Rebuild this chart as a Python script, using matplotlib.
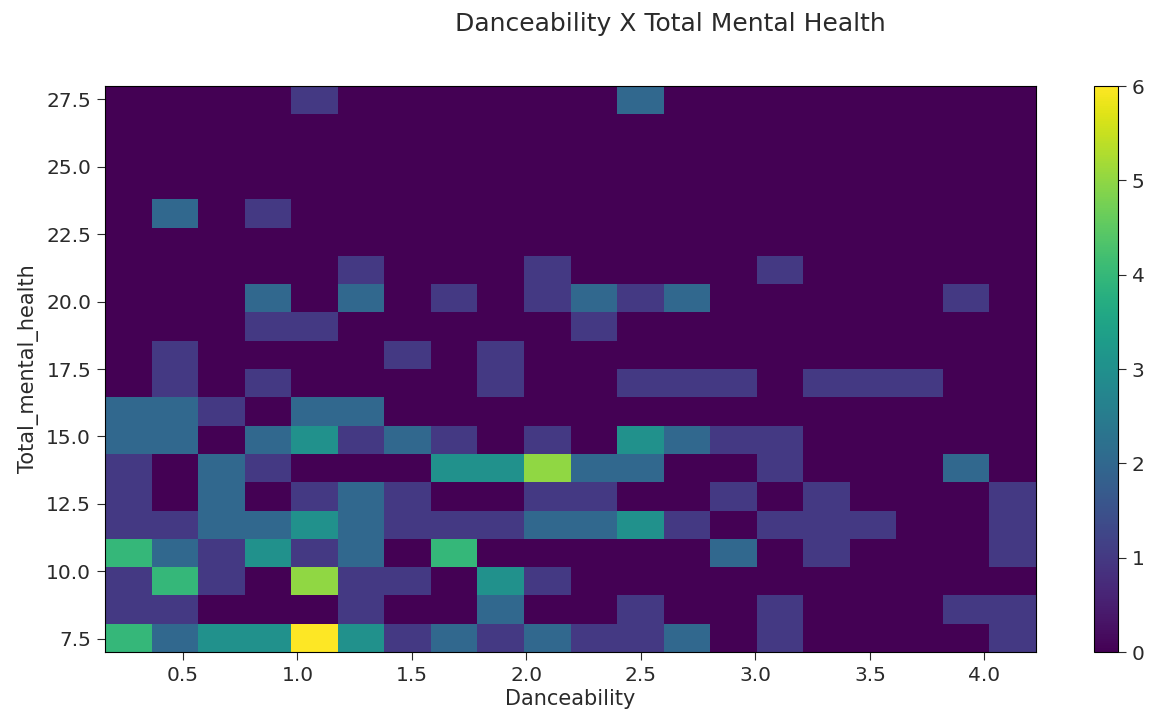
import numpy as np
import matplotlib
matplotlib.use("Agg")
import matplotlib.pyplot as plt

# bin edges of the 2d histogram (20 x 20 bins)
x_edges = np.linspace(0.16, 4.225, 21)
y_edges = np.linspace(7.0, 28.0, 21)

# counts per bin, rows listed from the top (27.5) down to the bottom (7.5)
counts_top_down = [
    [0, 0, 0, 0, 1, 0, 0, 0, 0, 0, 0, 2, 0, 0, 0, 0, 0, 0, 0, 0],
    [0, 0, 0, 0, 0, 0, 0, 0, 0, 0, 0, 0, 0, 0, 0, 0, 0, 0, 0, 0],
    [0, 0, 0, 0, 0, 0, 0, 0, 0, 0, 0, 0, 0, 0, 0, 0, 0, 0, 0, 0],
    [0, 0, 0, 0, 0, 0, 0, 0, 0, 0, 0, 0, 0, 0, 0, 0, 0, 0, 0, 0],
    [0, 2, 0, 1, 0, 0, 0, 0, 0, 0, 0, 0, 0, 0, 0, 0, 0, 0, 0, 0],
    [0, 0, 0, 0, 0, 0, 0, 0, 0, 0, 0, 0, 0, 0, 0, 0, 0, 0, 0, 0],
    [0, 0, 0, 0, 0, 1, 0, 0, 0, 1, 0, 0, 0, 0, 1, 0, 0, 0, 0, 0],
    [0, 0, 0, 2, 0, 2, 0, 1, 0, 1, 2, 1, 2, 0, 0, 0, 0, 0, 1, 0],
    [0, 0, 0, 1, 1, 0, 0, 0, 0, 0, 1, 0, 0, 0, 0, 0, 0, 0, 0, 0],
    [0, 1, 0, 0, 0, 0, 1, 0, 1, 0, 0, 0, 0, 0, 0, 0, 0, 0, 0, 0],
    [0, 1, 0, 1, 0, 0, 0, 0, 1, 0, 0, 1, 1, 1, 0, 1, 1, 1, 0, 0],
    [2, 2, 1, 0, 2, 2, 0, 0, 0, 0, 0, 0, 0, 0, 0, 0, 0, 0, 0, 0],
    [2, 2, 0, 2, 3, 1, 2, 1, 0, 1, 0, 3, 2, 1, 1, 0, 0, 0, 0, 0],
    [1, 0, 2, 1, 0, 0, 0, 3, 3, 5, 2, 2, 0, 0, 1, 0, 0, 0, 2, 0],
    [1, 0, 2, 0, 1, 2, 1, 0, 0, 1, 1, 0, 0, 1, 0, 1, 0, 0, 0, 1],
    [1, 1, 2, 2, 3, 2, 1, 1, 1, 2, 2, 3, 1, 0, 1, 1, 1, 0, 0, 1],
    [4, 2, 1, 3, 1, 2, 0, 4, 0, 0, 0, 0, 0, 2, 0, 1, 0, 0, 0, 1],
    [1, 4, 1, 0, 5, 1, 1, 0, 3, 1, 0, 0, 0, 0, 0, 0, 0, 0, 0, 0],
    [1, 1, 0, 0, 0, 1, 0, 0, 2, 0, 0, 1, 0, 0, 1, 0, 0, 0, 1, 1],
    [4, 2, 3, 3, 6, 3, 1, 2, 1, 2, 1, 1, 2, 0, 1, 0, 0, 0, 0, 1],
]
counts = np.flipud(np.array(counts_top_down))

x_ticks = [0.5, 1.0, 1.5, 2.0, 2.5, 3.0, 3.5, 4.0]
y_ticks = [7.5, 10.0, 12.5, 15.0, 17.5, 20.0, 22.5, 25.0, 27.5]

text_col = "#2a2a2a"

fig = plt.figure(figsize=(11.63, 7.17), dpi=100)
ax = fig.add_axes([105 / 1163, 1 - 652 / 717, 931 / 1163, 566 / 717])
mesh = ax.pcolormesh(x_edges, y_edges, counts, cmap="viridis", vmin=0, vmax=6)
ax.set_xlim(x_edges[0], x_edges[-1])
ax.set_ylim(y_edges[0], y_edges[-1])
ax.set_xticks(x_ticks)
ax.set_yticks(y_ticks)
ax.tick_params(labelsize=14.5, colors=text_col, length=6, pad=4)
ax.set_xlabel("Danceability", fontsize=15, color=text_col, labelpad=3)
ax.set_ylabel("Total_mental_health", fontsize=15, color=text_col, labelpad=5)

cax = fig.add_axes([1094 / 1163, 1 - 652 / 717, 24 / 1163, 566 / 717])
cb = fig.colorbar(mesh, cax=cax)
cb.set_ticks(range(0, 7))
cb.ax.tick_params(labelsize=14.5, colors=text_col, length=6, pad=4)
cb.outline.set_linewidth(0.8)

fig.text(670 / 1163, 1 - 24 / 717, "Danceability X Total Mental Health",
         ha="center", va="center", fontsize=18, color=text_col)

fig.savefig("out.png", dpi=100)
